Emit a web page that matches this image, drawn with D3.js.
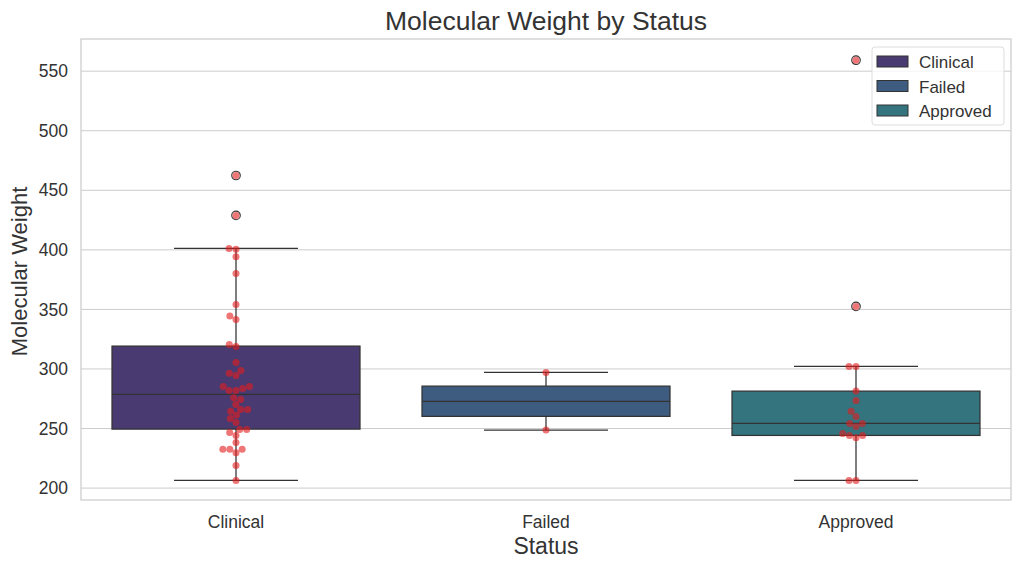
<!DOCTYPE html>
<html>
<head>
<meta charset="utf-8">
<script src="https://cdn.jsdelivr.net/npm/d3@7/dist/d3.min.js"></script>
<style>
  body { margin: 0; background: #fff; }
  svg text { font-family: "Liberation Sans", Arial, sans-serif; fill: #333333; }
</style>
</head>
<body>
<div id="chart"></div>
<script>
// categories and colours
var statuses = ["Clinical", "Failed", "Approved"]
var boxColors = ["#493b71", "#3e5b80", "#33747f"]

// raw molecular weights per status
var clinicalMW = [462.4, 428.9, 401.2, 400.6, 394.1, 380.2, 354.2, 344.4, 341.6, 320.6, 318.9,
  305.5, 298.8, 296.3, 294.6, 285.3, 285.3, 283.6, 282.0, 281.9, 275.8, 274.4, 270.2,
  266.0, 266.0, 264.6, 261.3, 258.5, 255.1, 249.2, 249.2, 246.7, 244.2, 238.3,
  232.5, 232.5, 232.5, 229.7, 219.0, 206.4]
var failedMW = [297.1, 248.7]
var approvedMW = [559.2, 352.5, 302.1, 302.1, 281.4, 273.6, 264.4, 260.2, 254.3, 254.3,
  251.8, 245.9, 244.2, 244.2, 242.2, 206.4, 206.4]

// box statistics per status
var q1 = [249.5, 260.2, 244.2]
var medians = [278.6, 272.8, 254.3]
var q3 = [319.2, 285.6, 281.4]
var whiskerLow = [206.4, 248.7, 206.4]
var whiskerHigh = [401.2, 297.1, 302.1]
var outliers = [[462.4, 428.9], [], [559.2, 352.5]]

var yTicks = [200, 250, 300, 350, 400, 450, 500, 550]

var width = 1021
var height = 569
var margin = { top: 39, right: 10, bottom: 69, left: 81 }
var innerWidth = width - margin.left - margin.right
var innerHeight = height - margin.top - margin.bottom

var svg = d3.select('#chart')
  .append('svg')
  .attr('width', width)
  .attr('height', height)

var g = svg.append('g')
  .attr('transform', 'translate(' + margin.left + ',' + margin.top + ')')

var xScale = d3.scaleBand()
  .domain(statuses)
  .range([0, innerWidth])
  .padding(0)

var yScale = d3.scaleLinear()
  .domain([190, 577])
  .range([innerHeight, 0])

// grid lines
g.append('g')
  .selectAll('line')
  .data(yTicks)
  .enter()
  .append('line')
  .attr('x1', 0)
  .attr('x2', innerWidth)
  .attr('y1', function (d) { return yScale(d) })
  .attr('y2', function (d) { return yScale(d) })
  .attr('stroke', '#cccccc')
  .attr('stroke-width', 1)

// axes (tick labels only)
var yAxis = g.append('g')
  .call(d3.axisLeft(yScale).tickValues(yTicks).tickSize(0).tickPadding(13))
  .attr('font-size', 17.5)
  .attr('font-family', null)
yAxis.select('.domain').remove()
yAxis.selectAll('text').attr('fill', '#333333')

var xAxis = g.append('g')
  .attr('transform', 'translate(0,' + innerHeight + ')')
  .call(d3.axisBottom(xScale).tickSize(0).tickPadding(16))
  .attr('font-size', 17.5)
  .attr('font-family', null)
xAxis.select('.domain').remove()
xAxis.selectAll('text').attr('fill', '#333333')

// spines
g.append('rect')
  .attr('x', 0)
  .attr('y', 0)
  .attr('width', innerWidth)
  .attr('height', innerHeight)
  .attr('fill', 'none')
  .attr('stroke', '#cccccc')
  .attr('stroke-width', 1.25)

var boxWidth = xScale.bandwidth() * 0.8
var lineColor = '#333333'

var boxes = g.selectAll('.box')
  .data(statuses)
  .enter()
  .append('g')
  .attr('class', 'box')
  .attr('transform', function (d) { return 'translate(' + (xScale(d) + xScale.bandwidth() / 2) + ',0)' })

// whiskers
boxes.append('line')
  .attr('x1', 0).attr('x2', 0)
  .attr('y1', function (d, i) { return yScale(whiskerHigh[i]) })
  .attr('y2', function (d, i) { return yScale(q3[i]) })
  .attr('stroke', lineColor).attr('stroke-width', 1.25)
boxes.append('line')
  .attr('x1', 0).attr('x2', 0)
  .attr('y1', function (d, i) { return yScale(q1[i]) })
  .attr('y2', function (d, i) { return yScale(whiskerLow[i]) })
  .attr('stroke', lineColor).attr('stroke-width', 1.25)
boxes.selectAll('.cap')
  .data(function (d, i) { return [whiskerLow[i], whiskerHigh[i]] })
  .enter()
  .append('line')
  .attr('class', 'cap')
  .attr('x1', -boxWidth / 4).attr('x2', boxWidth / 4)
  .attr('y1', function (v) { return yScale(v) })
  .attr('y2', function (v) { return yScale(v) })
  .attr('stroke', lineColor).attr('stroke-width', 1.25)

// box body
boxes.append('rect')
  .attr('x', -boxWidth / 2)
  .attr('width', boxWidth)
  .attr('y', function (d, i) { return yScale(q3[i]) })
  .attr('height', function (d, i) { return yScale(q1[i]) - yScale(q3[i]) })
  .attr('fill', function (d, i) { return boxColors[i] })
  .attr('stroke', lineColor)
  .attr('stroke-width', 1.25)

boxes.append('line')
  .attr('x1', -boxWidth / 2).attr('x2', boxWidth / 2)
  .attr('y1', function (d, i) { return yScale(medians[i]) })
  .attr('y2', function (d, i) { return yScale(medians[i]) })
  .attr('stroke', lineColor).attr('stroke-width', 1.25)

// fliers
boxes.selectAll('.flier')
  .data(function (d, i) { return outliers[i] })
  .enter()
  .append('circle')
  .attr('class', 'flier')
  .attr('cx', 0)
  .attr('cy', function (v) { return yScale(v) })
  .attr('r', 4.3)
  .attr('fill', '#ffffff')
  .attr('stroke', lineColor)
  .attr('stroke-width', 1.1)

// beeswarm: place points by value, nearest free offset to the centre
var dotR = 3.5
function swarm (values) {
  var pts = values.map(function (v) { return { v: v, y: yScale(v), x: 0 } })
  pts.sort(function (a, b) { return b.y - a.y })
  var placed = []
  var d = dotR * 2
  pts.forEach(function (p) {
    var near = placed.filter(function (q) { return Math.abs(q.y - p.y) < d })
    var cands = [0]
    near.forEach(function (q) {
      var dx = Math.sqrt(Math.max(0, d * d - (q.y - p.y) * (q.y - p.y)))
      cands.push(q.x + dx, q.x - dx)
    })
    cands.sort(function (a, b) { return Math.abs(a) - Math.abs(b) || a - b })
    for (var k = 0; k < cands.length; k++) {
      var c = cands[k]
      var ok = near.every(function (q) {
        var dx = q.x - c, dy = q.y - p.y
        return dx * dx + dy * dy >= d * d - 0.01
      })
      if (ok) { p.x = c; break }
    }
    placed.push(p)
  })
  return placed
}

var allData = [clinicalMW, failedMW, approvedMW]
boxes.selectAll('.dot')
  .data(function (d, i) { return swarm(allData[i]) })
  .enter()
  .append('circle')
  .attr('class', 'dot')
  .attr('cx', function (p) { return p.x })
  .attr('cy', function (p) { return p.y })
  .attr('r', dotR)
  .attr('fill', '#e41a1c')
  .attr('fill-opacity', 0.6)

// labels
svg.append('text')
  .attr('x', margin.left + innerWidth / 2)
  .attr('y', 30)
  .attr('text-anchor', 'middle')
  .style('font-size', '26.5px')
  .text('Molecular Weight by Status')

svg.append('text')
  .attr('x', margin.left + innerWidth / 2)
  .attr('y', 554)
  .attr('text-anchor', 'middle')
  .style('font-size', '23px')
  .text('Status')

svg.append('text')
  .attr('text-anchor', 'middle')
  .attr('transform', 'translate(27,' + (margin.top + innerHeight / 2 + 2) + ') rotate(-90)')
  .style('font-size', '22px')
  .text('Molecular Weight')

// legend
var legend = svg.append('g').attr('transform', 'translate(872,47)')
legend.append('rect')
  .attr('width', 132)
  .attr('height', 78)
  .attr('rx', 3)
  .attr('fill', '#ffffff')
  .attr('fill-opacity', 0.8)
  .attr('stroke', '#dddddd')

var items = legend.selectAll('.item')
  .data(statuses)
  .enter()
  .append('g')
  .attr('class', 'item')
  .attr('transform', function (d, i) { return 'translate(5,' + (9 + i * 24.5) + ')' })
items.append('rect')
  .attr('width', 31)
  .attr('height', 11)
  .attr('fill', function (d, i) { return boxColors[i] })
  .attr('stroke', lineColor)
  .attr('stroke-width', 1)
items.append('text')
  .attr('x', 42)
  .attr('y', 12)
  .style('font-size', '17px')
  .text(function (d) { return d })
</script>
</body>
</html>
